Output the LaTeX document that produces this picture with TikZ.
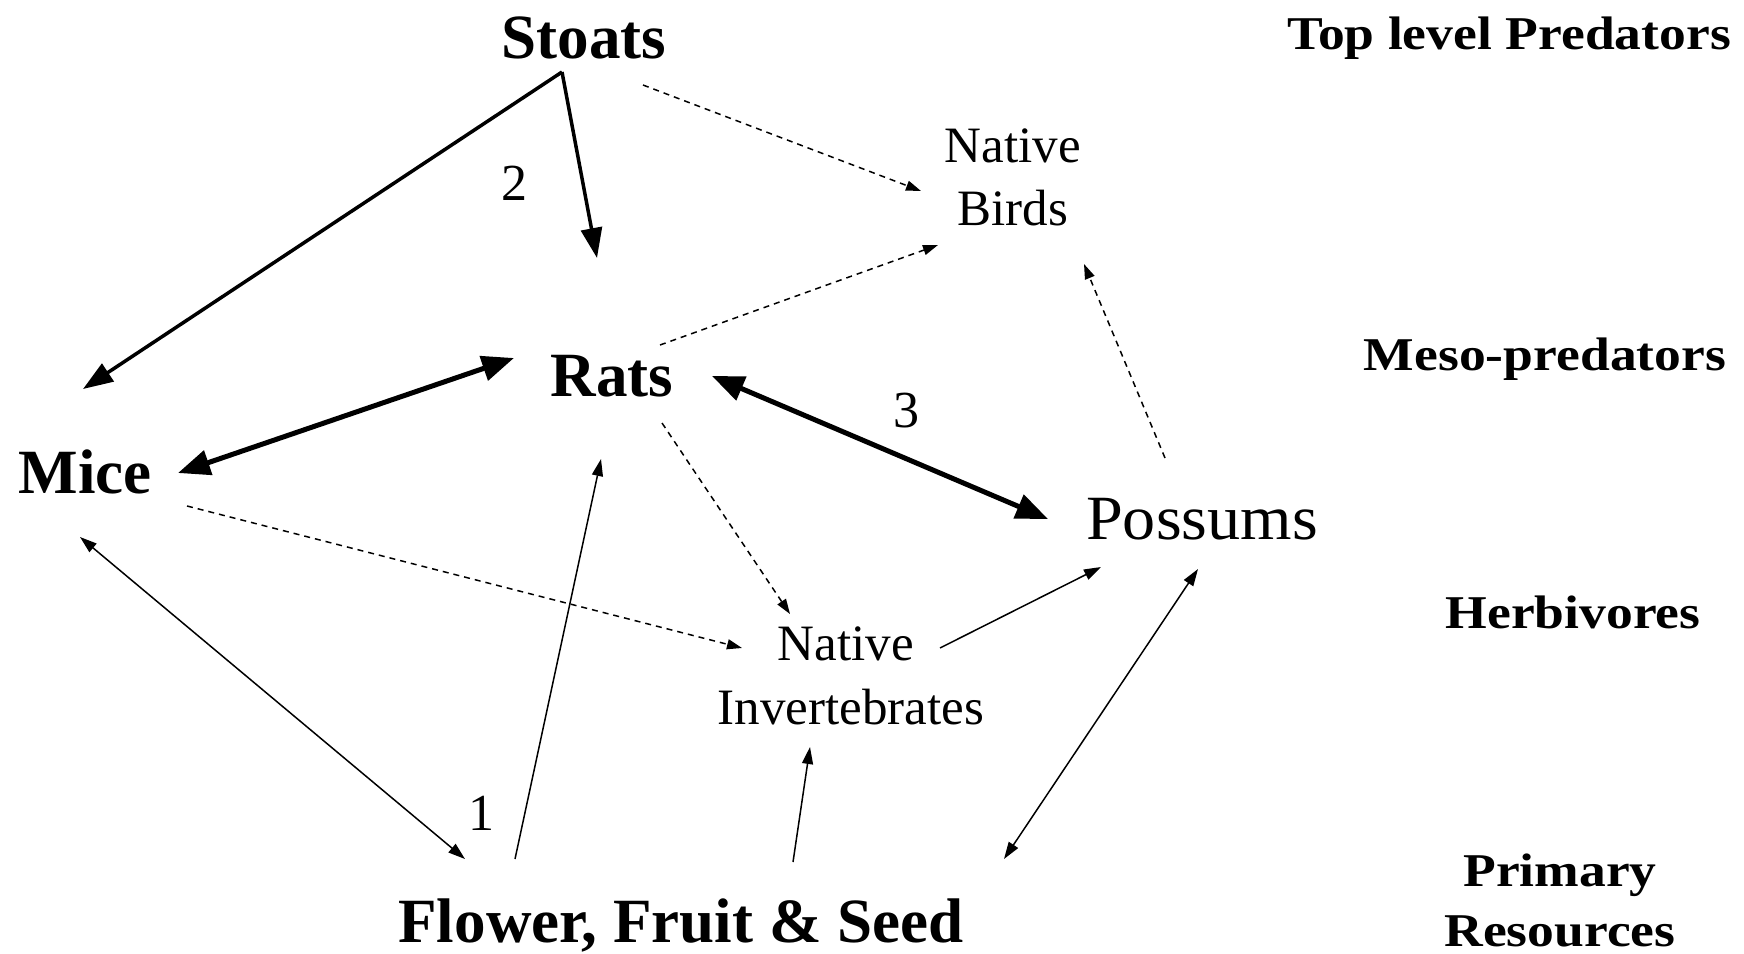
\documentclass[tikz,border=0pt]{standalone}
\usepackage{fontspec}
\setmainfont{Liberation Serif}
\usetikzlibrary{arrows.meta}
\newcommand{\wideLbl}[1]{\scalebox{1.14}[1]{#1}}
\newcommand{\widePos}[1]{\scalebox{1.05}[1]{#1}}
\newcommand{\plainT}[1]{\scalebox{1.001}[1]{#1}}
\tikzset{
  big/.style={font=\bfseries\fontsize{63}{63}\selectfont, inner sep=0pt, anchor=base},
  mid/.style={font=\fontsize{51}{51}\selectfont, inner sep=0pt, anchor=base},
  possfont/.style={font=\fontsize{63}{63}\selectfont, inner sep=0pt, anchor=base},
  lvl/.style={font=\bfseries\fontsize{47}{47}\selectfont, inner sep=0pt, anchor=base},
  num/.style={font=\fontsize{52}{52}\selectfont, inner sep=0pt, anchor=base},
  thinarr/.style={line width=1.5pt, -{Triangle[length=17pt,width=11pt]}},
  thinboth/.style={line width=1.5pt, {Triangle[length=17pt,width=11pt]}-{Triangle[length=17pt,width=11pt]}},
  dasharr/.style={line width=1.5pt, dash pattern=on 6pt off 5pt, -{Triangle[length=15pt,width=10pt]}},
  medarr/.style={line width=3.5pt, -{Triangle[length=30pt,width=21pt]}},
  heavyboth/.style={line width=5pt, {Triangle[length=32pt,width=25pt]}-{Triangle[length=32pt,width=25pt]}},
}
\begin{document}
\begin{tikzpicture}[x=1pt,y=-1pt]
\useasboundingbox (0,0) rectangle (1744,953);
% nodes
\node[big] (stoats) at (584,58) {\plainT{Stoats}};
\node[big] (rats) at (612,396) {\plainT{Rats}};
\node[big] (mice) at (85,493) {\plainT{Mice}};
\node[possfont] (possums) at (1202,539) {\widePos{Possums}};
\node[big] (ffs) at (681,942) {\plainT{Flower, Fruit \& Seed}};
\node[mid] (nb1) at (1013,162) {\plainT{Native}};
\node[mid] (nb2) at (1013,225) {\plainT{Birds}};
\node[mid] (ni1) at (846,660) {\plainT{Native}};
\node[mid] (ni2) at (851,724) {\plainT{Invertebrates}};
\node[lvl] (l1) at (1509,49) {\wideLbl{Top level Predators}};
\node[lvl] (l2) at (1545,370) {\wideLbl{Meso-predators}};
\node[lvl] (l3) at (1573,628) {\wideLbl{Herbivores}};
\node[lvl] (l4a) at (1560,886) {\wideLbl{Primary}};
\node[lvl] (l4b) at (1560,946) {\wideLbl{Resources}};
\node[num] (n2) at (515,200) {\plainT{2}};
\node[num] (n3) at (906,427) {\plainT{3}};
\node[num] (n1) at (482,830) {\plainT{1}};
% connector end points
\coordinate (stA) at (562,72);
\coordinate (stB) at (643,85);
\coordinate (miTop) at (83,389);
\coordinate (raTop) at (597,258);
\coordinate (nbL) at (921,191);
\coordinate (nbB) at (938,245);
\coordinate (nbR) at (1084,264);
\coordinate (raNE) at (660,345);
\coordinate (raW) at (514,358);
\coordinate (raE) at (712,376);
\coordinate (raS) at (662,423);
\coordinate (raSW) at (601,459);
\coordinate (miE) at (178,473);
\coordinate (miSE) at (187,506);
\coordinate (miS) at (80,537);
\coordinate (poW) at (1048,519);
\coordinate (poN) at (1165,458);
\coordinate (poSW) at (1101,567);
\coordinate (poS) at (1198,569);
\coordinate (niN) at (790,614);
\coordinate (niW) at (742,648);
\coordinate (niE) at (940,648);
\coordinate (niS) at (810,747);
\coordinate (ffA) at (465,859);
\coordinate (ffB) at (515,859);
\coordinate (ffC) at (793,862);
\coordinate (ffD) at (1004,859);
% connectors
\draw[medarr] (stA) -- (miTop);
\draw[medarr] (stA) -- (raTop);
\draw[dasharr] (stB) -- (nbL);
\draw[dasharr] (raNE) -- (nbB);
\draw[heavyboth] (miE) -- (raW);
\draw[heavyboth] (raE) -- (poW);
\draw[dasharr] (poN) -- (nbR);
\draw[dasharr] (raS) -- (niN);
\draw[dasharr] (miSE) -- (niW);
\draw[thinboth] (miS) -- (ffA);
\draw[thinarr] (ffB) -- (raSW);
\draw[thinarr] (ffC) -- (niS);
\draw[thinarr] (niE) -- (poSW);
\draw[thinboth] (poS) -- (ffD);
\end{tikzpicture}
\end{document}
